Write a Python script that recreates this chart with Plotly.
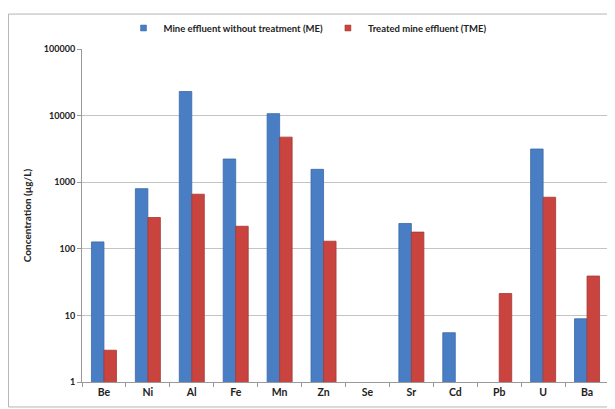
import plotly.graph_objects as go

# elementos y concentraciones (ug/L)
elementos = ['Be', 'Ni', 'Al', 'Fe', 'Mn', 'Zn', 'Se', 'Sr', 'Cd', 'Pb', 'U', 'Ba']
me = [127, 800, 23000, 2230, 10700, 1560, None, 240, 5.5, None, 3150, 8.9]
tme = [3.0, 295, 660, 218, 4750, 130, None, 178, None, 21.3, 595, 39]

ticks_y = [1, 10, 100, 1000, 10000, 100000]
ticks_y_txt = ['1', '10', '100', '1000', '10000', '100000']

fuente = 'Lato'
azul, azul_borde = '#4a7ec4', '#3a69a6'
rojo, rojo_borde = '#c9443f', '#a33834'

fig = go.Figure()
fig.add_trace(go.Bar(x=elementos, y=me, name='Mine effluent without treatment (ME)', showlegend=False,
                     marker=dict(color=azul, line=dict(color=azul_borde, width=0.8))))
fig.add_trace(go.Bar(x=elementos, y=tme, name='Treated mine effluent (TME)', showlegend=False,
                     marker=dict(color=rojo, line=dict(color=rojo_borde, width=0.8))))

# leyenda con cuadritos pequeños como en Excel
fig.add_trace(go.Scatter(x=[None], y=[None], mode='markers', name='Mine effluent without treatment (ME)',
                         marker=dict(symbol='square', size=6, color=azul, line=dict(color=azul_borde, width=0.5))))
fig.add_trace(go.Scatter(x=[None], y=[None], mode='markers', name='Treated mine effluent (TME)',
                         marker=dict(symbol='square', size=6, color=rojo, line=dict(color=rojo_borde, width=0.5))))

# la pagina deja 8px de margen en el body, se compensa aqui
fig.update_layout(
    width=615, height=409,
    margin=dict(l=74, r=14, t=41, b=35, autoexpand=False),
    paper_bgcolor='white', plot_bgcolor='white',
    barmode='group', bargap=0.43, bargroupgap=0,
    font=dict(family=fuente, size=9, color='#222222'),
    showlegend=True,
    legend=dict(orientation='h', x=0.487, y=1 - 20 / 409, xref='container', yref='container',
                xanchor='center', yanchor='middle', bgcolor='rgba(0,0,0,0)',
                font=dict(size=9.5, weight='bold'), itemwidth=30, tracegroupgap=0),
    shapes=[dict(type='rect', xref='paper', yref='paper',
                 x0=-0.1395, x1=1.0095, y0=-0.075, y1=1.105,
                 line=dict(color='#b5b5b5', width=1))],
)

fig.update_xaxes(type='category', showline=True, linecolor='#999999', linewidth=1,
                 ticks='outside', ticklen=4, tickcolor='#999999', tickson='boundaries',
                 tickfont=dict(size=10.5, weight='bold'), showgrid=False, automargin=False)
fig.update_yaxes(type='log', range=[0, 5], tickvals=ticks_y, ticktext=ticks_y_txt,
                 showline=True, linecolor='#999999', linewidth=1,
                 ticks='outside', ticklen=4, tickcolor='#999999',
                 showgrid=True, gridcolor='#c4c4c4', gridwidth=1, automargin=False,
                 tickfont=dict(size=9, weight='bold'),
                 title=dict(text='Concentration (µg/L)', font=dict(size=10, weight='bold'), standoff=10))

fig.write_html('out.html')
